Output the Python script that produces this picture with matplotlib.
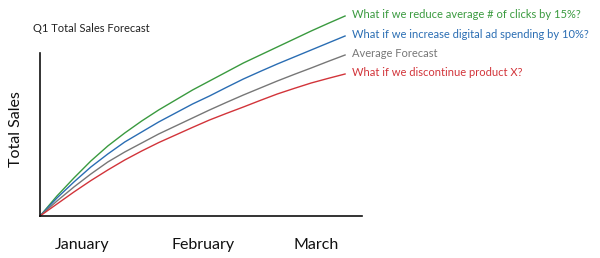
import matplotlib
matplotlib.use("Agg")
from matplotlib import pyplot as plt

# day of the quarter and sales index
days = [0, 5, 10, 15, 20, 25, 30, 35, 40, 45, 50, 55, 60, 65, 70, 75, 80, 85, 90]
clicks = [0, 10, 19, 27.5, 35, 41.5, 47.5, 53, 58, 63, 67.5, 72, 76.5, 80.5, 84.5, 88.5, 92.5, 96.3, 100]
digital = [0, 9, 17, 24.5, 31, 37, 42, 47, 51.5, 56, 60, 64.3, 68.5, 72.3, 76, 79.5, 83, 86.5, 90]
average = [0, 7.5, 14.5, 21, 27, 32, 36.5, 41, 45, 49, 53, 56.8, 60.5, 64, 67.5, 70.8, 74, 77.3, 80.5]
discontinue = [0, 6, 12, 17.7, 23, 28, 32.5, 36.7, 40.5, 44.3, 48, 51.3, 54.5, 57.8, 61, 63.8, 66.5, 68.8, 71]

series_names = [
    'What if we reduce average # of clicks by 15%?',
    'What if we increase digital ad spending by 10%?',
    'Average Forecast',
    'What if we discontinue product X?',
]
colors = ['#3a9a3f', '#2a6db3', '#777777', '#d2343a']

month_names = ['January', 'February', 'March']
month_pos = [12.4, 48, 81.4]

plt.rcParams['font.family'] = ['Lato', 'DejaVu Sans']

fig = plt.figure(figsize=(6, 2.58), dpi=100)
ax = fig.add_axes([40 / 600, 1 - 216 / 258, 322 / 600, 206 / 258])

for values, name, color in zip([clicks, digital, average, discontinue], series_names, colors):
    ax.plot(days, values, color=color, linewidth=1.0, clip_on=False)
    ax.text(days[-1] + 2, values[-1] + 1, name, color=color, fontsize=8,
            va='center', ha='left', clip_on=False)

ax.set_xlim(0, 95)
ax.set_ylim(0, 103)
for side in ['top', 'right']:
    ax.spines[side].set_visible(False)
for side in ['left', 'bottom']:
    ax.spines[side].set_linewidth(1.2)
    ax.spines[side].set_color('#111111')
ax.spines['left'].set_bounds(0, 81.5)

ax.set_yticks([])
ax.set_xticks(month_pos)
ax.set_xticklabels(month_names, fontsize=11.5, color='#111111')
ax.tick_params(axis='x', length=0, pad=16)

ax.set_ylabel('Total Sales', fontsize=11.5, color='#111111')
ax.yaxis.set_label_coords(-0.052, 0.42)
fig.text(33 / 600, 1 - 28 / 258, 'Q1 Total Sales Forecast', fontsize=8,
         color='#222222', va='center', ha='left')

fig.savefig('out.png', dpi=100)
